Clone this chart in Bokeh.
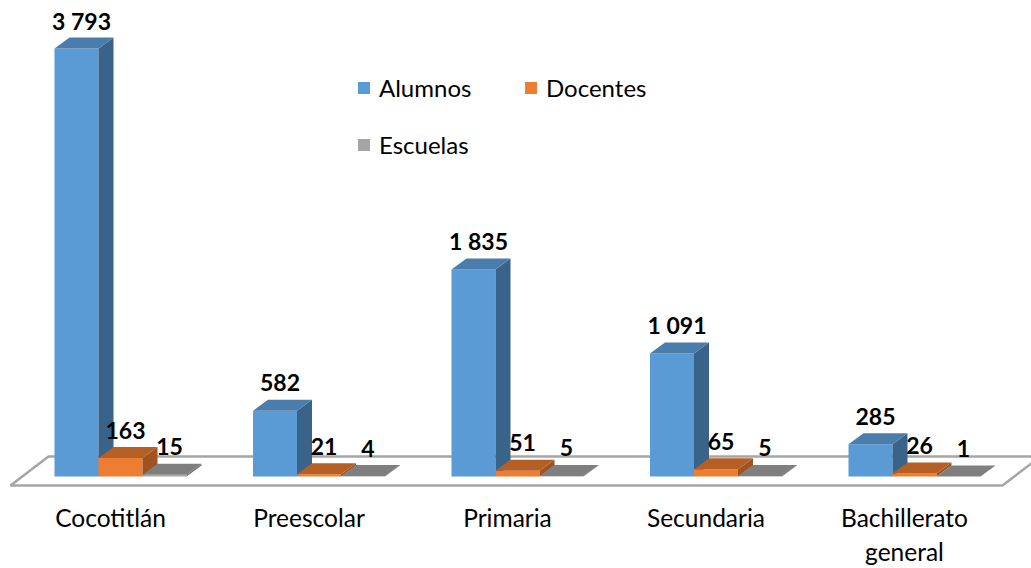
from bokeh.plotting import figure
from bokeh.models import ColumnDataSource, Legend, LegendItem, FixedTicker, Range1d
from bokeh.core.properties import value
from bokeh.embed import file_html
from bokeh.resources import INLINE

categories = ["Cocotitlán", "Preescolar", "Primaria", "Secundaria", "Bachillerato\ngeneral"]
alumnos = [3793, 582, 1835, 1091, 285]
docentes = [163, 21, 51, 65, 26]
escuelas = [15, 4, 5, 5, 1]

W, H = 1031, 568
FRAME_H = 492
PX_PER_GROUP = 198.5
PX_PER_VAL = 428 / 3793
BAR_W = 44 / PX_PER_GROUP
DX = 15 / PX_PER_GROUP
DY = 11 / PX_PER_VAL
FONT = "Lato"

p = figure(width=W, height=H, frame_height=FRAME_H, frame_width=W,
           output_backend="svg", toolbar_location=None,
           x_range=Range1d(-98 / PX_PER_GROUP, (W - 98) / PX_PER_GROUP),
           y_range=Range1d((476 - FRAME_H) / PX_PER_VAL, 476 / PX_PER_VAL),
           min_border_left=0, min_border_right=0, min_border_top=0, min_border_bottom=0,
           outline_line_color=None, background_fill_color="white")
p.styles = {"position": "absolute", "left": "0px", "top": "0px"}
p.grid.visible = False
p.yaxis.visible = False

# floor
fl_front_y, fl_back_y = -9 / PX_PER_VAL, 20 / PX_PER_VAL
fl_l, fl_r = (10 - 98) / PX_PER_GROUP, (1002 - 98) / PX_PER_GROUP
fl_d = 38 / PX_PER_GROUP
p.patch([fl_l, fl_r, fl_r + fl_d, fl_l + fl_d], [fl_front_y, fl_front_y, fl_back_y, fl_back_y],
        fill_color="white", line_color="#A6A6A6", line_width=2.5)

series = [
    ("Alumnos", alumnos, -1, "#5B9BD5", "#4A7DAC", "#3A638A"),
    ("Docentes", docentes, 0, "#ED7D31", "#B55F24", "#9E5320"),
    ("Escuelas", escuelas, 1, "#A5A5A5", "#7F7F7F", "#6E6E6E"),
]
legend_items = []
for name, vals, pos, col, top, side in series:
    lefts = [i + pos * BAR_W for i in range(len(vals))]
    rights = [l + BAR_W for l in lefts]
    fr = p.vbar(x=[l + BAR_W / 2 for l in lefts], top=vals, bottom=0, width=BAR_W,
                fill_color=col, line_color=None)
    p.patches([[r, r + DX, r + DX, r] for r in rights],
              [[0, DY, v + DY, v] for v in vals], fill_color=side, line_color=None)
    p.patches([[l, r, r + DX, l + DX] for l, r in zip(lefts, rights)],
              [[v, v, v + DY, v + DY] for v in vals], fill_color=top, line_color=None)
    legend_items.append(LegendItem(label=name, renderers=[fr]))

for name, vals, pos, *_ in series:
    src = ColumnDataSource(dict(
        x=[i + pos * BAR_W + BAR_W / 2 for i in range(len(vals))],
        y=vals,
        t=[f"{v:,}".replace(",", " ") for v in vals]))
    p.text("x", "y", text="t", source=src, x_offset=5, y_offset=-28,
           text_align="center", text_baseline="middle",
           text_font=value(FONT), text_font_style="bold", text_font_size="23px", text_color="black")

# category axis
ax = p.xaxis[0]
ax.ticker = FixedTicker(ticks=[i + 12 / PX_PER_GROUP for i in range(len(categories))])
ax.major_label_overrides = {i + 12 / PX_PER_GROUP: c for i, c in enumerate(categories)}
ax.axis_line_color = None
ax.major_tick_line_color = None
ax.minor_tick_line_color = None
ax.major_label_standoff = 4
ax.major_label_text_font = FONT
ax.major_label_text_font_size = "24.5px"
ax.major_label_text_color = "black"

leg = Legend(items=legend_items, location=(356, FRAME_H - 159), ncols=2,
             orientation="horizontal", border_line_color=None, background_fill_alpha=0,
             glyph_width=15, glyph_height=15, label_standoff=8, spacing=28, margin=0, padding=0,
             label_text_font=FONT, label_text_font_size="24px", label_text_color="black",
             label_width=116)
p.add_layout(leg, "center")

open("out.html", "w").write(file_html(p, INLINE))
